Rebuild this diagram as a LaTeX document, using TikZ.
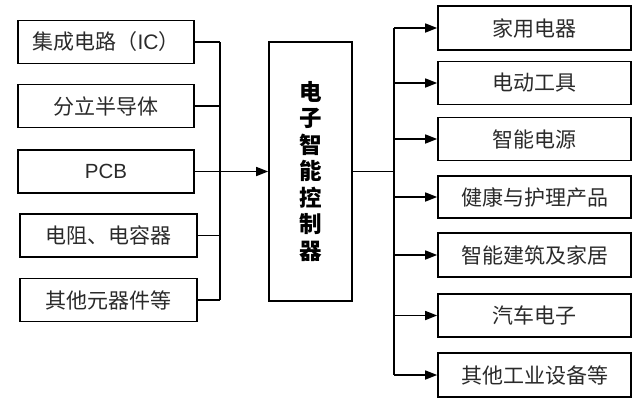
\documentclass[tikz,border=0pt]{standalone}
\usepackage{fontspec}
\newfontfamily\cjk{Noto Sans CJK SC}
\setmainfont{Liberation Sans}
\usetikzlibrary{arrows.meta}
\definecolor{txt}{HTML}{2A2A2A}
\begin{document}
\begin{tikzpicture}[x=1pt,y=-1pt,
  box/.style={draw=black,line width=1.6pt,inner sep=0pt,text=txt,font=\cjk\fontsize{21}{24}\selectfont},
  lbox/.style={box,minimum width=176pt,minimum height=43pt},
  rbox/.style={box,minimum width=193pt,minimum height=43pt},
  conn/.style={line width=1.1pt,draw=black},
  arr/.style={line width=1.5pt,draw=black,-{Triangle[length=12pt,width=9pt]}}]
\useasboundingbox (0,0) rectangle (642,400);
% left boxes
\node[lbox] (L1) at (106,42) {集成电路（\rmfamily IC\cjk）};
\node[lbox] (L2) at (106,106) {分立半导体};
\node[lbox] (L3) at (106,171.5) {\rmfamily\fontsize{20.5}{24}\selectfont PCB};
\node[lbox,minimum width=177pt] (L4) at (108.5,235.5) {电阻、电容器};
\node[lbox,minimum width=177pt] (L5) at (108.5,300) {其他元器件等};
% center box
\node[draw=black,line width=1.6pt,minimum width=83pt,minimum height=259pt,inner sep=0pt,
      font=\cjk\bfseries\fontsize{22.5}{26.5}\selectfont,align=center] (C) at (310.5,171.5)
  {电\\子\\智\\能\\控\\制\\器};
% right boxes
\node[rbox,minimum height=44pt] (R1) at (534.5,28) {家用电器};
\node[rbox] (R2) at (534.5,83) {电动工具};
\node[rbox] (R3) at (534.5,139) {智能电源};
\node[rbox,minimum height=42pt] (R4) at (534.5,197) {健康与护理产品};
\node[rbox,minimum height=44pt] (R5) at (534.5,255) {智能建筑及家居};
\node[rbox] (R6) at (534.5,315.5) {汽车电子};
\node[rbox,minimum height=44pt] (R7) at (534.5,375) {其他工业设备等};
% buses
\coordinate (busL) at (220,0);
\coordinate (busR) at (394,0);
\draw[conn] (L1.east -| busL) -- (L5.east -| busL);
\foreach \n in {L1,L2,L4,L5} \draw[conn] (\n.east) -- (\n.east -| busL);
\draw[arr] (L3.east) -- (C.west);
\draw[line width=1.5pt] (C.east) -- (C.east -| busR);
\draw[line width=1.5pt] (R1.west -| busR) -- (R7.west -| busR);
\foreach \n in {R1,R2,R3,R4,R5,R6,R7} \draw[arr] (\n.west -| busR) -- (\n.west);
\end{tikzpicture}
\end{document}
